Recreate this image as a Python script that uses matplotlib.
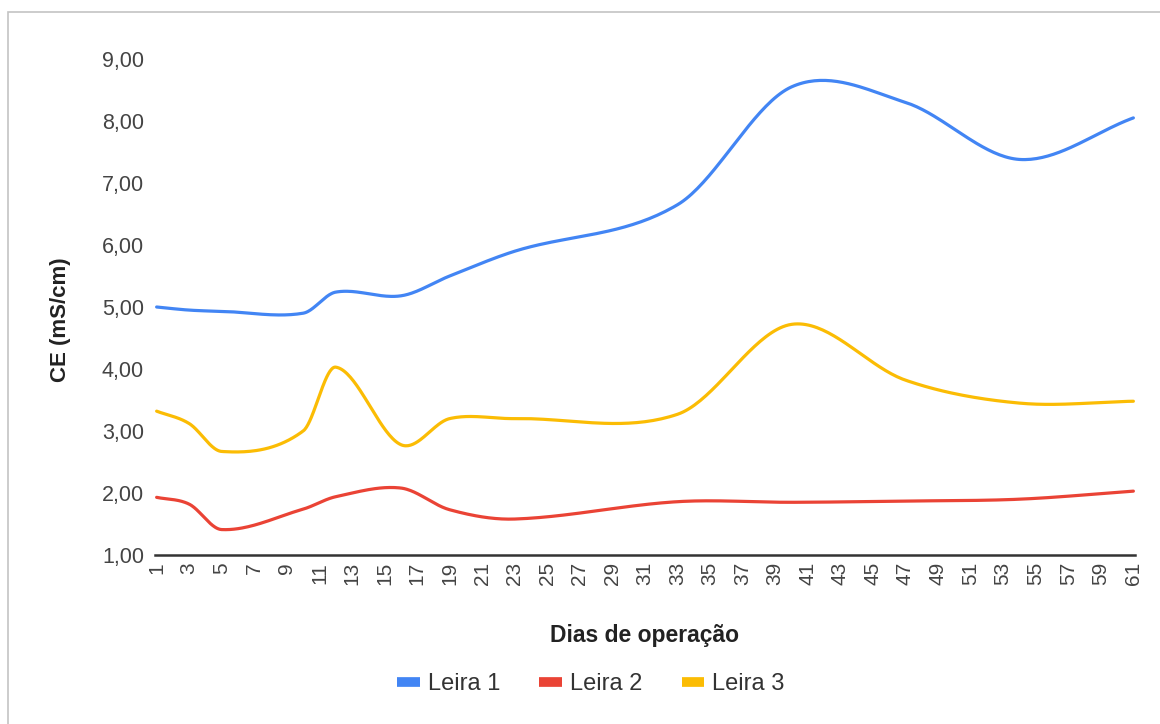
import numpy as np
import matplotlib.pyplot as plt
from matplotlib.lines import Line2D
from matplotlib.patches import Rectangle
from matplotlib.ticker import FuncFormatter

plt.rcParams['font.family'] = ['Liberation Sans', 'DejaVu Sans']

# sampling days and CE readings (mS/cm)
dias = [1, 3, 5, 10, 12, 16, 19, 23, 33, 40, 47, 54, 61]
leira1 = [5.00, 4.95, 4.93, 4.90, 5.24, 5.18, 5.50, 5.90, 6.65, 8.55, 8.30, 7.38, 8.05]
leira2 = [1.93, 1.82, 1.41, 1.74, 1.94, 2.08, 1.73, 1.58, 1.86, 1.85, 1.87, 1.90, 2.03]
leira3 = [3.32, 3.12, 2.67, 3.00, 4.03, 2.78, 3.20, 3.20, 3.27, 4.72, 3.82, 3.45, 3.48]

tick_days = list(range(1, 62, 2))
series = [("Leira 1", leira1, "#4285F4"),
          ("Leira 2", leira2, "#EA4335"),
          ("Leira 3", leira3, "#FBBC04")]


def smooth(x, y, n=40):
    # cubic hermite through the points, tangents from neighbours (like the sheet's smooth line)
    x = np.asarray(x, float)
    y = np.asarray(y, float)
    m = np.zeros_like(y)
    m[1:-1] = (y[2:] - y[:-2]) / (x[2:] - x[:-2])
    m[0] = (y[1] - y[0]) / (x[1] - x[0])
    m[-1] = (y[-1] - y[-2]) / (x[-1] - x[-2])
    xs, ys = [], []
    for i in range(len(x) - 1):
        h = x[i + 1] - x[i]
        t = np.linspace(0, 1, n, endpoint=False)
        h00 = 2 * t**3 - 3 * t**2 + 1
        h10 = t**3 - 2 * t**2 + t
        h01 = -2 * t**3 + 3 * t**2
        h11 = t**3 - t**2
        xs.append(x[i] + t * h)
        ys.append(h00 * y[i] + h10 * h * m[i] + h01 * y[i + 1] + h11 * h * m[i + 1])
    xs.append([x[-1]])
    ys.append([y[-1]])
    return np.concatenate(xs), np.concatenate(ys)


fig = plt.figure(figsize=(11.6, 7.24), dpi=100)
ax = fig.add_axes([155 / 1160, 1 - 555 / 724, (1135 - 155) / 1160, (555 - 59) / 724])

for name, vals, col in series:
    sx, sy = smooth(dias, vals)
    ax.plot(sx, sy, color=col, lw=2.3, solid_capstyle='round', clip_on=False)

ax.set_xlim(0.9, 61.1)
ax.set_ylim(1, 9)
ax.set_xticks(tick_days)
ax.set_xticklabels([str(d) for d in tick_days], rotation=90, fontsize=15, color='#444444')
ax.set_yticks(range(1, 10))
ax.yaxis.set_major_formatter(FuncFormatter(lambda v, p: f"{v:.2f}".replace('.', ',')))
ax.tick_params(axis='y', labelsize=15.5, colors='#444444', length=0, pad=8)
ax.tick_params(axis='x', length=0, pad=5)

for s in ['top', 'right', 'left']:
    ax.spines[s].set_visible(False)
ax.spines['bottom'].set_color('#333333')
ax.spines['bottom'].set_linewidth(1.8)

ax.set_xlabel("Dias de operação", fontsize=16.5, fontweight='bold', color='#222222', labelpad=28)
ax.set_ylabel("CE (mS/cm)", fontsize=16, fontweight='bold', color='#222222')
ax.yaxis.set_label_coords(-0.086, 0.474)

handles = [Line2D([0], [0], color=c, lw=7, solid_capstyle='butt') for _, _, c in series]
fig.legend(handles, [n for n, _, _ in series], loc='center', bbox_to_anchor=(0.5095, 1 - 684 / 724),
           ncol=3, frameon=False, fontsize=17, handlelength=0.95, handletextpad=0.35,
           columnspacing=1.65, labelcolor='#333333')

# chart frame
fig.patches.append(Rectangle((8 / 1160, -0.05), 1.1, 1 - 12 / 724 + 0.05, transform=fig.transFigure,
                             fill=False, edgecolor='#c4c4c4', lw=1.2))

fig.savefig("out.png", dpi=100)
